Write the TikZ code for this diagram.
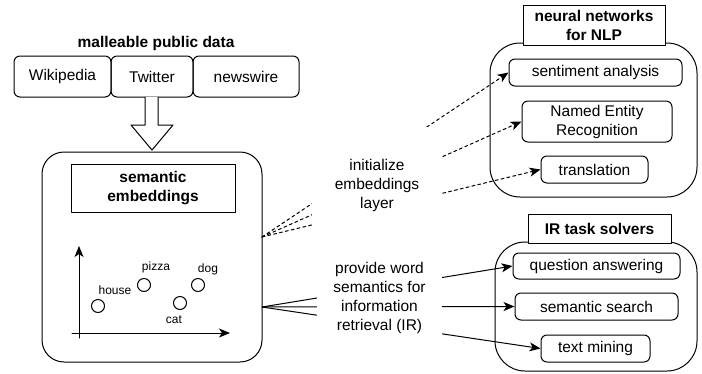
\documentclass[tikz,border=0pt]{standalone}
\usepackage{fontspec}
\setmainfont{Liberation Sans}
\usetikzlibrary{arrows.meta}
\newcommand{\diagfont}{\fontsize{15.5}{19}\selectfont}
\newcommand{\smallfont}{\fontsize{12}{14}\selectfont}
\tikzset{
  srcbox/.style={draw,rounded corners=6pt,minimum height=41pt,inner sep=0pt},
  taskbox/.style={draw,rounded corners=6pt,fill=white,inner sep=0pt,align=center},
  headbox/.style={draw,fill=white,inner sep=0pt,align=center,font=\diagfont\bfseries},
  groupbox/.style={draw,rounded corners=30pt,inner sep=0pt},
  dot/.style={draw,circle,minimum size=13pt,inner sep=0pt},
  small/.style={font=\smallfont,inner sep=0pt},
  lbl/.style={fill=white,inner sep=0pt,align=center}
}

\begin{document}
\begin{tikzpicture}[line cap=round,line join=round,>={Stealth[length=11pt,width=9pt,inset=3pt]},x=1pt,y=-1pt,line width=1pt,font=\diagfont]
\useasboundingbox (0,0) rectangle (702,373);
\node (title) at (156,43) {\bfseries malleable public data};
\node[srcbox,minimum width=97pt] (wiki) at (62.5,76.5) {Wikipedia};
\node[srcbox,minimum width=82pt] (twit) at (152,76.5) {Twitter};
\node[srcbox,minimum width=106pt] (news) at (246,76.5) {newswire};
\draw[fill=white] (145,97)--(145,125)--(131,125)--(152,150)--(173,125)--(158,125)--(158,97);
\node[draw,rounded corners=22pt,minimum width=220pt,minimum height=210pt] (emb) at (152,257) {};
\node[headbox,minimum width=164pt,minimum height=48pt] (embtitle) at (153,188) {semantic\\embeddings};
\coordinate (xstart) at (72,333);
\coordinate (xend) at (230,333);
\coordinate (ystart) at (79,338);
\coordinate (yend) at (79,246);
\draw[->] (xstart) -- (xend);
\draw[->] (ystart) -- (yend);
\node[dot] (house) at (98,306) {};
\node[small] (houselbl) at (115,290) {house};
\node[dot] (pizza) at (144,285) {};
\node[small] (pizzalbl) at (156,267) {pizza};
\node[dot] (dog) at (198,285) {};
\node[small] (doglbl) at (208,269) {dog};
\node[dot] (cat) at (180,303) {};
\node[small] (catlbl) at (174,320) {cat};
\coordinate (embinit) at (262,237);
\coordinate (embir) at (262,307);
\node[groupbox,minimum width=207pt,minimum height=154pt] (nlp) at (593.5,120) {};
\node[headbox,minimum width=142pt,minimum height=40pt] (nlptitle) at (594,25) {neural networks\\for NLP};
\node[taskbox,minimum width=173pt,minimum height=27pt] (sent) at (595.5,72.5) {sentiment analysis};
\node[taskbox,minimum width=150pt,minimum height=41pt] (ner) at (597,121.5) {Named Entity\\Recognition};
\node[taskbox,minimum width=107pt,minimum height=27pt] (trans) at (594.5,169.5) {translation};
\node[groupbox,minimum width=202pt,minimum height=129pt] (ir) at (596,306.5) {};
\node[headbox,minimum width=143pt,minimum height=29pt] (irtitle) at (599.5,228.5) {IR task solvers};
\node[taskbox,minimum width=167pt,minimum height=26pt] (qa) at (596.5,266) {question answering};
\node[taskbox,minimum width=163pt,minimum height=27pt] (search) at (596.5,306.5) {semantic search};
\node[taskbox,minimum width=109pt,minimum height=27pt] (mining) at (595.5,348.5) {text mining};
\draw[dashed,->] (embinit) -- (sent.west);
\draw[dashed,->] (embinit) -- (ner.west);
\draw[dashed,->] (embinit) -- (trans.west);
\draw[->] (embir) -- (qa.west);
\draw[->] (embir) -- (search.west);
\draw[->] (embir) -- (mining.west);
\node[lbl,minimum width=130pt,minimum height=116pt] (initlbl) at (377,185) {initialize\\embeddings\\layer};
\node[lbl,minimum width=125pt,minimum height=90pt] (irlbl) at (379.5,298) {provide word\\semantics for\\information\\retrieval (IR)};
\end{tikzpicture}
\end{document}
